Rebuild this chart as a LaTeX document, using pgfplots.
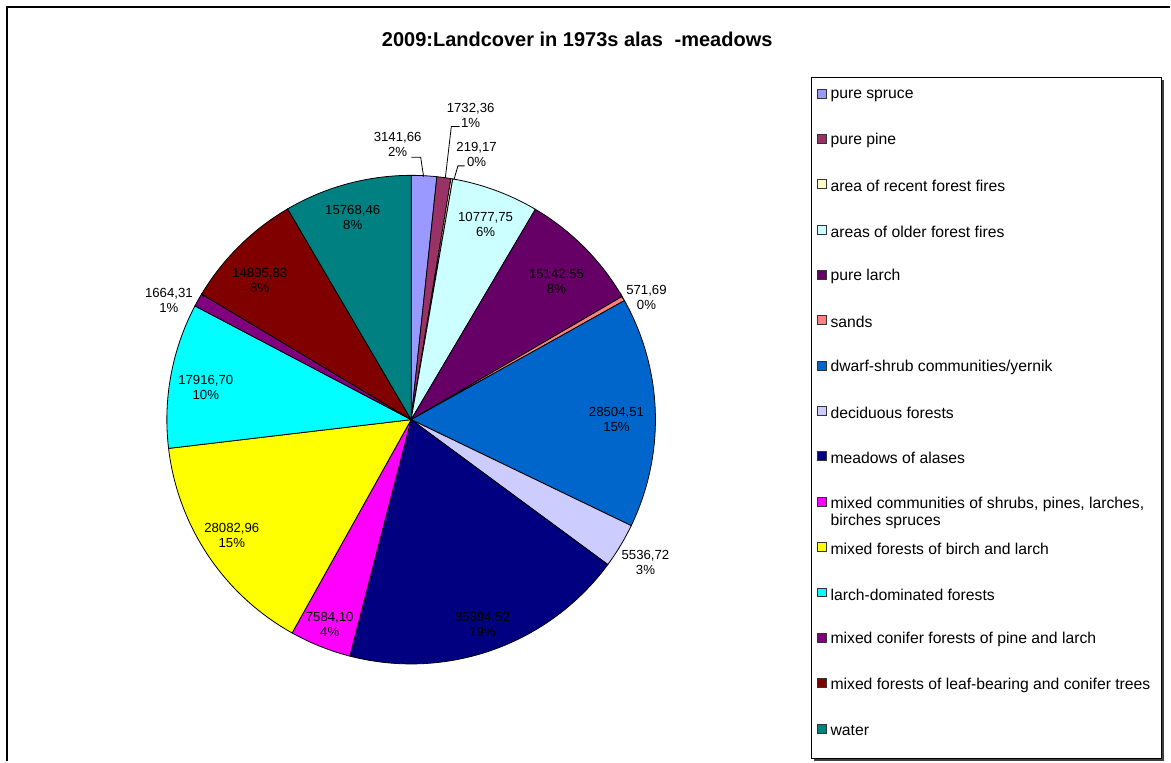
\documentclass[border=0pt]{standalone}
\usepackage{pgfplots}
\usepackage{pgfplotstable}
\usepackage{fontspec}
\setmainfont{Liberation Sans}
\pgfplotsset{compat=1.18}

\definecolor{c0}{HTML}{9999FF}
\definecolor{c1}{HTML}{993366}
\definecolor{c2}{HTML}{FFFFCC}
\definecolor{c3}{HTML}{CCFFFF}
\definecolor{c4}{HTML}{660066}
\definecolor{c5}{HTML}{FF8080}
\definecolor{c6}{HTML}{0066CC}
\definecolor{c7}{HTML}{CCCCFF}
\definecolor{c8}{HTML}{000080}
\definecolor{c9}{HTML}{FF00FF}
\definecolor{c10}{HTML}{FFFF00}
\definecolor{c11}{HTML}{00FFFF}
\definecolor{c12}{HTML}{800080}
\definecolor{c13}{HTML}{800000}
\definecolor{c14}{HTML}{008080}

% areas of the land-cover classes, in the order of the legend
\pgfplotstableread{
value
3141.66
1732.36
219.17
10777.75
15142.55
571.69
28504.51
5536.72
35394.52
7584.10
28082.96
17916.70
1664.31
14895.83
15768.46
}\piedata

\tikzset{lbl/.style={align=center, inner sep=0pt, font=\fontsize{9.9}{11.3}\selectfont}}
\newcommand\legentry[2]{%
  \draw[fill=c#1, draw=black!80, line width=0.6pt]
    (axis cs:818,{93.5+45.4*#1-4.5}) rectangle (axis cs:827.5,{93.5+45.4*#1+4.5});
  \node[anchor=west, inner sep=0pt, font=\fontsize{11.8}{12.8}\selectfont]
    at (axis cs:831,{95.5+45.4*#1}) {#2};}

\begin{document}
\begin{tikzpicture}
\begin{axis}[
  scale only axis, width=878.25pt, height=571.5pt,
  xmin=0, xmax=1171, ymin=0, ymax=762, y dir=reverse,
  hide axis, clip=false]
\path (axis cs:0,0) rectangle (axis cs:1171,762);

\def\total{0}
\pgfplotsforeachungrouped \i in {0,...,14}{%
  \pgfplotstablegetelem{\i}{value}\of\piedata
  \edef\total{\fpeval{\total+\pgfplotsretval}}%
}
\def\curang{90}
\pgfplotsforeachungrouped \i in {0,...,14}{%
  \pgfplotstablegetelem{\i}{value}\of\piedata
  \edef\endang{\fpeval{round(\curang - \pgfplotsretval/\total*360,5)}}%
  \edef\temp{\noexpand\addplot[fill=c\i, draw=black, line width=0.6pt,
     domain=\endang:\curang, samples=90, variable=\noexpand\t, forget plot]
     ({411.5+244.5*cos(\noexpand\t)},{420-244.5*sin(\noexpand\t)})
     -- (axis cs:411.5,420) -- cycle;}%
  \temp
  \let\curang\endang
}

% title
\node[anchor=base west, inner sep=0pt, font=\bfseries\fontsize{15}{17}\selectfont]
  at (axis cs:382,47) {2009:Landcover in 1973s alas};
\node[anchor=base west, inner sep=0pt, font=\bfseries\fontsize{15}{17}\selectfont]
  at (axis cs:675,47) {-meadows};

% data labels
\node[lbl] at (axis cs:398,145) {3141,66\\2\%};
\node[lbl] at (axis cs:471,116) {1732,36\\1\%};
\node[lbl] at (axis cs:477,155) {219,17\\0\%};
\node[lbl] at (axis cs:486,225) {10777,75\\6\%};
\node[lbl] at (axis cs:557,282) {15142,55\\8\%};
\node[lbl] at (axis cs:647,298) {571,69\\0\%};
\node[lbl] at (axis cs:617,420) {28504,51\\15\%};
\node[lbl] at (axis cs:646,563) {5536,72\\3\%};
\node[lbl] at (axis cs:483,625) {35394,52\\19\%};
\node[lbl] at (axis cs:330,625) {7584,10\\4\%};
\node[lbl] at (axis cs:232,536) {28082,96\\15\%};
\node[lbl] at (axis cs:206,388) {17916,70\\10\%};
\node[lbl] at (axis cs:169,301) {1664,31\\1\%};
\node[lbl] at (axis cs:260,281) {14895,83\\8\%};
\node[lbl] at (axis cs:353,218) {15768,46\\8\%};

% leader lines
\draw[line width=0.6pt] (axis cs:411.7,157.3) -- (axis cs:421,157.3) -- (axis cs:424,176.7);
\draw[line width=0.6pt] (axis cs:460,126.7) -- (axis cs:451.7,126.7) -- (axis cs:445.7,178.3);
\draw[line width=0.6pt] (axis cs:465,166) -- (axis cs:458.3,166) -- (axis cs:454.3,180);
\draw[line width=0.6pt] (axis cs:621,293) -- (axis cs:623,299);
\draw[line width=0.6pt] (axis cs:201.7,294) -- (axis cs:204,297.3);

% legend
\draw[line width=0.75pt] (axis cs:812,77.5) rectangle (axis cs:1162.5,759.5);
\draw[line width=1.3pt, black!75] (axis cs:1164.2,80) -- (axis cs:1164.2,761) -- (axis cs:815,761);
\legentry{0}{pure spruce}
\legentry{1}{pure pine}
\legentry{2}{area of recent forest fires}
\legentry{3}{areas of older forest fires}
\legentry{4}{pure larch}
\legentry{5}{sands}
\legentry{6}{dwarf-shrub communities/yernik}
\legentry{7}{deciduous forests}
\legentry{8}{meadows of alases}
\draw[fill=c9, draw=black!80, line width=0.6pt]
  (axis cs:818,{93.5+45.4*9-4.5}) rectangle (axis cs:827.5,{93.5+45.4*9+4.5});
\node[anchor=north west, inner sep=0pt, align=left, font=\fontsize{11.8}{12.8}\selectfont]
  at (axis cs:831,{95.5+45.4*9-6.5}) {mixed communities of shrubs, pines, larches,\\birches spruces};
\legentry{10}{mixed forests of birch and larch}
\legentry{11}{larch-dominated forests}
\legentry{12}{mixed conifer forests of pine and larch}
\legentry{13}{mixed forests of leaf-bearing and conifer trees}
\legentry{14}{water}

% chart-area border
\draw[line width=1.5pt] (axis cs:7,762) -- (axis cs:7,7.5) -- (axis cs:1171,7.5);
\end{axis}
\end{tikzpicture}
\end{document}
